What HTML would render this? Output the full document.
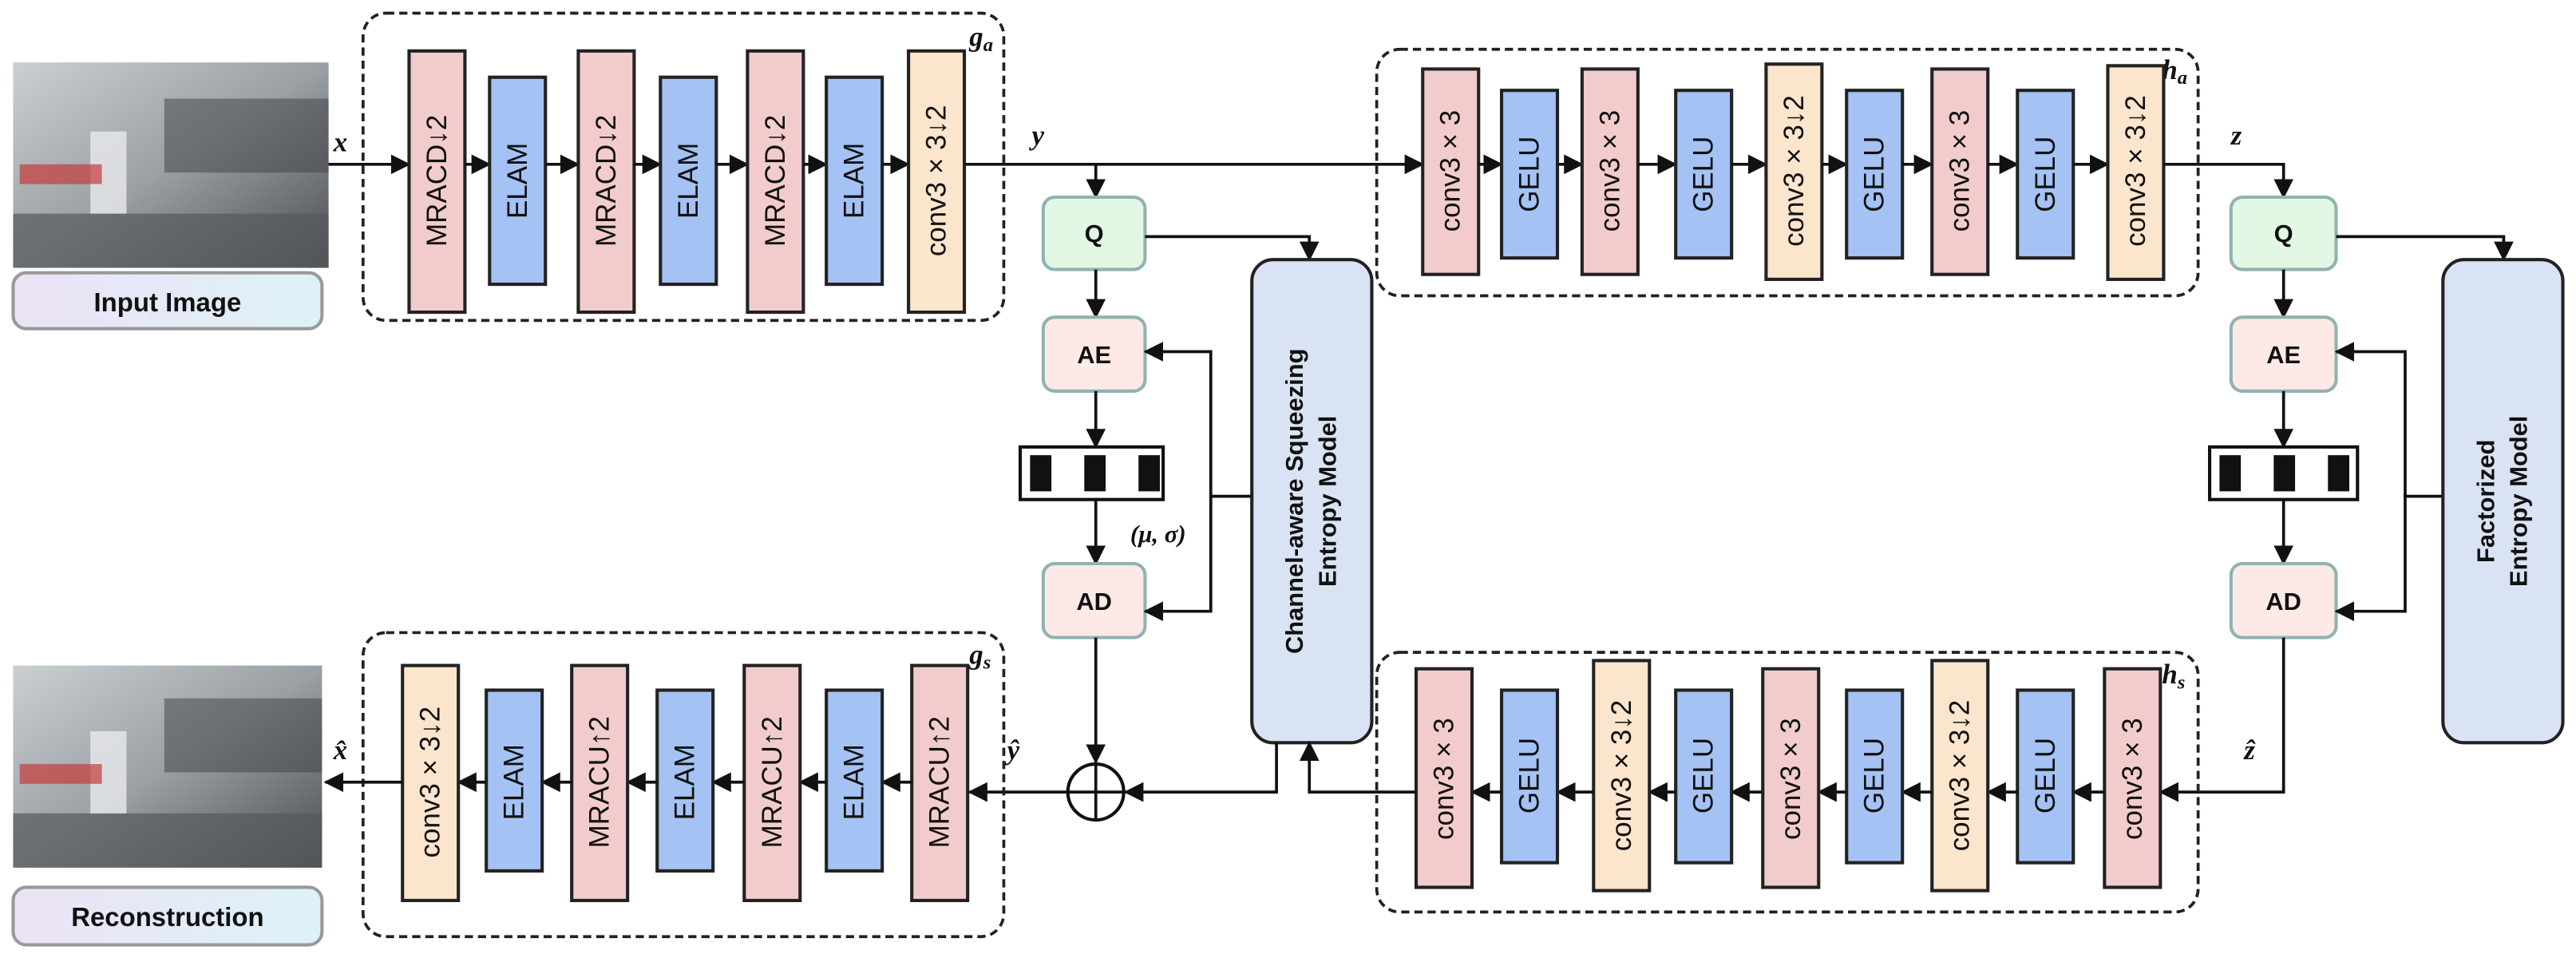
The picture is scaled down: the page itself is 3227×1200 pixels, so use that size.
<!DOCTYPE html>
<html><head><meta charset="utf-8"><style>
html,body{margin:0;padding:0;background:#fff;}
svg{display:block;}
text{font-family:"Liberation Sans",sans-serif;}
.bt{font-size:17px;fill:#111;text-anchor:middle;dominant-baseline:central;}
.lb{font-size:15px;font-weight:bold;text-anchor:middle;dominant-baseline:central;fill:#111;}
.m{font-family:"Liberation Serif",serif;font-style:italic;font-size:17px;fill:#111;font-weight:600;}
.pk{fill:#f2cccc;stroke:#222;stroke-width:2;}
.bl{fill:#a4c2f4;stroke:#222;stroke-width:2;}
.pc{fill:#fce5cd;stroke:#222;stroke-width:2;}
.dash{fill:none;stroke:#222;stroke-width:1.8;stroke-dasharray:5,3;}
.ln{fill:none;stroke:#111;stroke-width:1.8;}
</style></head><body>
<svg width="3227" height="1200" viewBox="0 0 1568 583" preserveAspectRatio="none" xmlns="http://www.w3.org/2000/svg">
<defs>
<marker id="a" markerUnits="userSpaceOnUse" markerWidth="12" markerHeight="12" refX="11" refY="6" orient="auto"><path d="M0,0 L12,6 L0,12 z" fill="#111"/></marker>
<linearGradient id="ph" x1="0" y1="0" x2="1" y2="1"><stop offset="0" stop-color="#c9cfd2"/><stop offset="0.5" stop-color="#9aa0a4"/><stop offset="1" stop-color="#4a4d50"/></linearGradient>
<linearGradient id="lbg" x1="0" x2="1"><stop offset="0" stop-color="#ece2f6"/><stop offset="1" stop-color="#ddf2f8"/></linearGradient>
</defs>

<!-- images -->
<rect x="8" y="38" width="192" height="125" fill="url(#ph)"/>
<rect x="8" y="130" width="192" height="33" fill="#55585c" opacity="0.7"/>
<rect x="100" y="60" width="100" height="45" fill="#3d4044" opacity="0.5"/>
<rect x="55" y="80" width="22" height="50" fill="#e8eaec" opacity="0.8"/>
<rect x="12" y="100" width="50" height="12" fill="#c43a3a" opacity="0.7"/>
<rect x="8" y="166" width="188" height="34" rx="8" fill="url(#lbg)" stroke="#999" stroke-width="2"/>
<text class="lb" x="102" y="184" style="font-size:16px">Input Image</text>
<rect x="8" y="405" width="188" height="123" fill="url(#ph)"/>
<rect x="8" y="495" width="188" height="33" fill="#55585c" opacity="0.7"/>
<rect x="100" y="425" width="96" height="45" fill="#3d4044" opacity="0.5"/>
<rect x="55" y="445" width="22" height="50" fill="#e8eaec" opacity="0.8"/>
<rect x="12" y="465" width="50" height="12" fill="#c43a3a" opacity="0.7"/>
<rect x="8" y="540" width="188" height="35" rx="8" fill="url(#lbg)" stroke="#999" stroke-width="2"/>
<text class="lb" x="102" y="558" style="font-size:16px">Reconstruction</text>

<!-- g_a -->
<rect class="dash" x="221" y="8" width="390" height="187" rx="14"/>
<text class="m" x="590" y="28">g<tspan font-size="12" dy="3">a</tspan></text>
<path class="ln" d="M200,100 H249" marker-end="url(#a)"/>
<text class="m" x="203" y="92">x</text>
<rect class="pk" x="249" y="31" width="34" height="159"/><text class="bt" transform="translate(266,110) rotate(-90)">MRACD↓2</text>
<path class="ln" d="M283,100 H298" marker-end="url(#a)"/>
<rect class="bl" x="298" y="47" width="34" height="126"/><text class="bt" transform="translate(315,110) rotate(-90)">ELAM</text>
<path class="ln" d="M332,100 H352" marker-end="url(#a)"/>
<rect class="pk" x="352" y="31" width="34" height="159"/><text class="bt" transform="translate(369,110) rotate(-90)">MRACD↓2</text>
<path class="ln" d="M386,100 H402" marker-end="url(#a)"/>
<rect class="bl" x="402" y="47" width="34" height="126"/><text class="bt" transform="translate(419,110) rotate(-90)">ELAM</text>
<path class="ln" d="M436,100 H455" marker-end="url(#a)"/>
<rect class="pk" x="455" y="31" width="34" height="159"/><text class="bt" transform="translate(472,110) rotate(-90)">MRACD↓2</text>
<path class="ln" d="M489,100 H503" marker-end="url(#a)"/>
<rect class="bl" x="503" y="47" width="34" height="126"/><text class="bt" transform="translate(520,110) rotate(-90)">ELAM</text>
<path class="ln" d="M537,100 H553" marker-end="url(#a)"/>
<rect class="pc" x="553" y="31" width="34" height="159"/><text class="bt" transform="translate(570,110) rotate(-90)">conv3 × 3↓2</text>
<path class="ln" d="M587,100 H866" marker-end="url(#a)"/>
<text class="m" x="628" y="88">y</text>

<!-- left Q/AE/AD -->
<path class="ln" d="M667,100 V120" marker-end="url(#a)"/>
<rect x="635" y="120" width="62" height="44" rx="7" fill="#e3f8e4" stroke="#8fb3b0" stroke-width="2"/><text class="lb" x="666" y="142">Q</text>
<path class="ln" d="M697,144 H797 V158" marker-end="url(#a)"/>
<path class="ln" d="M667,164 V193" marker-end="url(#a)"/>
<rect x="635" y="193" width="62" height="45" rx="7" fill="#fde9e6" stroke="#8fb3b0" stroke-width="2"/><text class="lb" x="666" y="216">AE</text>
<path class="ln" d="M667,238 V272" marker-end="url(#a)"/>
<rect x="621" y="272" width="87" height="32" fill="#fff" stroke="#111" stroke-width="2"/>
<rect x="627" y="277" width="13" height="22" fill="#111"/><rect x="660" y="277" width="13" height="22" fill="#111"/><rect x="693" y="277" width="13" height="22" fill="#111"/>
<path class="ln" d="M667,304 V343" marker-end="url(#a)"/>
<text class="m" x="688" y="330" style="font-size:15px">(μ, σ)</text>
<rect x="635" y="343" width="62" height="45" rx="7" fill="#fde9e6" stroke="#8fb3b0" stroke-width="2"/><text class="lb" x="666" y="366">AD</text>
<path class="ln" d="M762,302 H737 V214 H697" marker-end="url(#a)"/>
<path class="ln" d="M737,300 V372 H697" marker-end="url(#a)"/>
<rect x="762" y="158" width="73" height="294" rx="13" fill="#dae3f3" stroke="#222" stroke-width="2"/>
<text class="lb" transform="translate(788,305) rotate(-90)">Channel-aware Squeezing</text>
<text class="lb" transform="translate(808,305) rotate(-90)">Entropy Model</text>
<path class="ln" d="M667,388 V464" marker-end="url(#a)"/>
<circle cx="667" cy="482" r="17" fill="#fff" stroke="#111" stroke-width="2"/>
<path class="ln" d="M650,482 H684 M667,465 V499"/>
<path class="ln" d="M777,452 V482 H685" marker-end="url(#a)"/>
<path class="ln" d="M650,482 H590" marker-end="url(#a)"/>
<text class="m" x="613" y="462">ŷ</text>

<!-- h_a -->
<rect class="dash" x="838" y="30" width="500" height="150" rx="14"/>
<text class="m" x="1316" y="48">h<tspan font-size="12" dy="3">a</tspan></text>
<rect class="pk" x="866" y="42" width="34" height="125"/><text class="bt" transform="translate(883,104) rotate(-90)">conv3 × 3</text>
<path class="ln" d="M900,100 H914" marker-end="url(#a)"/>
<rect class="bl" x="914" y="55" width="34" height="102"/><text class="bt" transform="translate(931,106) rotate(-90)">GELU</text>
<path class="ln" d="M948,100 H963" marker-end="url(#a)"/>
<rect class="pk" x="963" y="42" width="34" height="125"/><text class="bt" transform="translate(980,104) rotate(-90)">conv3 × 3</text>
<path class="ln" d="M997,100 H1020" marker-end="url(#a)"/>
<rect class="bl" x="1020" y="55" width="34" height="102"/><text class="bt" transform="translate(1037,106) rotate(-90)">GELU</text>
<path class="ln" d="M1054,100 H1075" marker-end="url(#a)"/>
<rect class="pc" x="1075" y="39" width="34" height="131"/><text class="bt" transform="translate(1092,104) rotate(-90)">conv3 × 3↓2</text>
<path class="ln" d="M1109,100 H1124" marker-end="url(#a)"/>
<rect class="bl" x="1124" y="55" width="34" height="102"/><text class="bt" transform="translate(1141,106) rotate(-90)">GELU</text>
<path class="ln" d="M1158,100 H1176" marker-end="url(#a)"/>
<rect class="pk" x="1176" y="42" width="34" height="125"/><text class="bt" transform="translate(1193,104) rotate(-90)">conv3 × 3</text>
<path class="ln" d="M1210,100 H1228" marker-end="url(#a)"/>
<rect class="bl" x="1228" y="55" width="34" height="102"/><text class="bt" transform="translate(1245,106) rotate(-90)">GELU</text>
<path class="ln" d="M1262,100 H1283" marker-end="url(#a)"/>
<rect class="pc" x="1283" y="40" width="34" height="130"/><text class="bt" transform="translate(1300,104) rotate(-90)">conv3 × 3↓2</text>
<path class="ln" d="M1317,100 H1390 V120" marker-end="url(#a)"/>
<text class="m" x="1358" y="88">z</text>

<!-- right Q/AE/AD -->
<rect x="1358" y="120" width="64" height="44" rx="7" fill="#e3f8e4" stroke="#8fb3b0" stroke-width="2"/><text class="lb" x="1390" y="142">Q</text>
<path class="ln" d="M1422,144 H1524 V158" marker-end="url(#a)"/>
<path class="ln" d="M1390,164 V193" marker-end="url(#a)"/>
<rect x="1358" y="193" width="64" height="45" rx="7" fill="#fde9e6" stroke="#8fb3b0" stroke-width="2"/><text class="lb" x="1390" y="216">AE</text>
<path class="ln" d="M1390,238 V272" marker-end="url(#a)"/>
<rect x="1345" y="272" width="90" height="32" fill="#fff" stroke="#111" stroke-width="2"/>
<rect x="1351" y="277" width="13" height="22" fill="#111"/><rect x="1384" y="277" width="13" height="22" fill="#111"/><rect x="1417" y="277" width="13" height="22" fill="#111"/>
<path class="ln" d="M1390,304 V343" marker-end="url(#a)"/>
<rect x="1358" y="343" width="64" height="45" rx="7" fill="#fde9e6" stroke="#8fb3b0" stroke-width="2"/><text class="lb" x="1390" y="366">AD</text>
<path class="ln" d="M1487,302 H1464 V214 H1422" marker-end="url(#a)"/>
<path class="ln" d="M1464,300 V372 H1422" marker-end="url(#a)"/>
<rect x="1487" y="158" width="73" height="294" rx="13" fill="#dae3f3" stroke="#222" stroke-width="2"/>
<text class="lb" transform="translate(1513,305) rotate(-90)">Factorized</text>
<text class="lb" transform="translate(1533,305) rotate(-90)">Entropy Model</text>
<path class="ln" d="M1390,388 V482 H1315" marker-end="url(#a)"/>
<text class="m" x="1366" y="462">ẑ</text>

<!-- h_s -->
<rect class="dash" x="838" y="397" width="500" height="158" rx="14"/>
<text class="m" x="1316" y="416">h<tspan font-size="12" dy="3">s</tspan></text>
<rect class="pk" x="1281" y="407" width="34" height="133"/><text class="bt" transform="translate(1298,474) rotate(-90)">conv3 × 3</text>
<path class="ln" d="M1281,482 H1262" marker-end="url(#a)"/>
<rect class="bl" x="1228" y="420" width="34" height="105"/><text class="bt" transform="translate(1245,472) rotate(-90)">GELU</text>
<path class="ln" d="M1228,482 H1210" marker-end="url(#a)"/>
<rect class="pc" x="1176" y="402" width="34" height="140"/><text class="bt" transform="translate(1193,472) rotate(-90)">conv3 × 3↓2</text>
<path class="ln" d="M1176,482 H1158" marker-end="url(#a)"/>
<rect class="bl" x="1124" y="420" width="34" height="105"/><text class="bt" transform="translate(1141,472) rotate(-90)">GELU</text>
<path class="ln" d="M1124,482 H1107" marker-end="url(#a)"/>
<rect class="pk" x="1073" y="407" width="34" height="133"/><text class="bt" transform="translate(1090,474) rotate(-90)">conv3 × 3</text>
<path class="ln" d="M1073,482 H1054" marker-end="url(#a)"/>
<rect class="bl" x="1020" y="420" width="34" height="105"/><text class="bt" transform="translate(1037,472) rotate(-90)">GELU</text>
<path class="ln" d="M1020,482 H1004" marker-end="url(#a)"/>
<rect class="pc" x="970" y="402" width="34" height="140"/><text class="bt" transform="translate(987,472) rotate(-90)">conv3 × 3↓2</text>
<path class="ln" d="M970,482 H948" marker-end="url(#a)"/>
<rect class="bl" x="914" y="420" width="34" height="105"/><text class="bt" transform="translate(931,472) rotate(-90)">GELU</text>
<path class="ln" d="M914,482 H896" marker-end="url(#a)"/>
<rect class="pk" x="862" y="407" width="34" height="133"/><text class="bt" transform="translate(879,474) rotate(-90)">conv3 × 3</text>
<path class="ln" d="M862,482 H797 V452" marker-end="url(#a)"/>

<!-- g_s -->
<rect class="dash" x="221" y="385" width="390" height="185" rx="14"/>
<text class="m" x="590" y="404">g<tspan font-size="12" dy="3">s</tspan></text>
<rect class="pk" x="555" y="405" width="34" height="143"/><text class="bt" transform="translate(572,476) rotate(-90)">MRACU↑2</text>
<path class="ln" d="M555,476 H537" marker-end="url(#a)"/>
<rect class="bl" x="503" y="420" width="34" height="110"/><text class="bt" transform="translate(520,476) rotate(-90)">ELAM</text>
<path class="ln" d="M503,476 H487" marker-end="url(#a)"/>
<rect class="pk" x="453" y="405" width="34" height="143"/><text class="bt" transform="translate(470,476) rotate(-90)">MRACU↑2</text>
<path class="ln" d="M453,476 H434" marker-end="url(#a)"/>
<rect class="bl" x="400" y="420" width="34" height="110"/><text class="bt" transform="translate(417,476) rotate(-90)">ELAM</text>
<path class="ln" d="M400,476 H382" marker-end="url(#a)"/>
<rect class="pk" x="348" y="405" width="34" height="143"/><text class="bt" transform="translate(365,476) rotate(-90)">MRACU↑2</text>
<path class="ln" d="M348,476 H330" marker-end="url(#a)"/>
<rect class="bl" x="296" y="420" width="34" height="110"/><text class="bt" transform="translate(313,476) rotate(-90)">ELAM</text>
<path class="ln" d="M296,476 H279" marker-end="url(#a)"/>
<rect class="pc" x="245" y="405" width="34" height="143"/><text class="bt" transform="translate(262,476) rotate(-90)">conv3 × 3↓2</text>
<path class="ln" d="M245,476 H198" marker-end="url(#a)"/>
<text class="m" x="203" y="462">x̂</text>
</svg>
</body></html>
